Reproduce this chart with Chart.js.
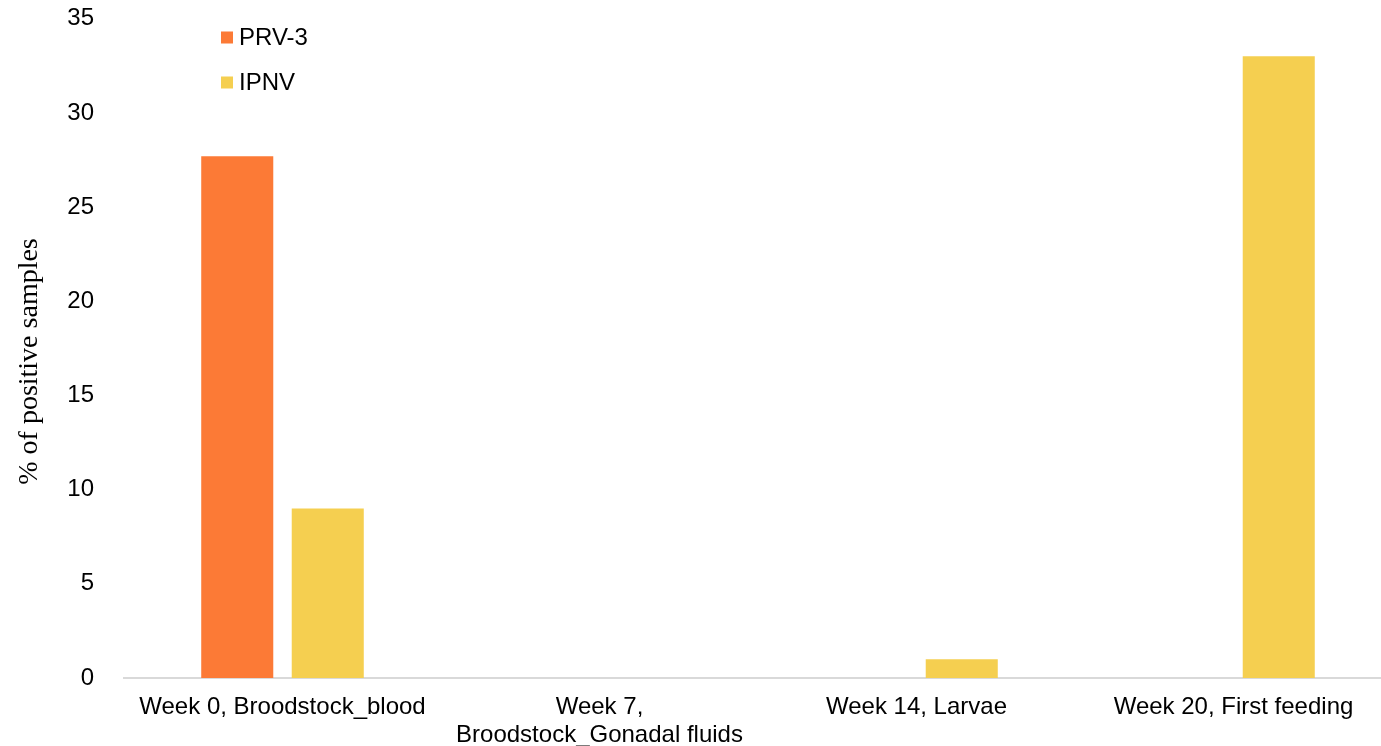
<!DOCTYPE html>
<html>
<head>
<meta charset="utf-8">
<script src="https://cdn.jsdelivr.net/npm/chart.js@4/dist/chart.umd.min.js"></script>
<style>
  html, body { margin: 0; padding: 0; background: #fff; overflow: hidden; }
  #wrap { position: relative; width: 1392px; height: 746px; }
</style>
</head>
<body>
<div id="wrap"><canvas id="c"></canvas></div>
<script>
const categories = [
  "Week 0, Broodstock_blood",
  ["Week 7,", "Broodstock_Gonadal fluids"],
  "Week 14, Larvae",
  "Week 20, First feeding"
];
const seriesNames = ["PRV-3", "IPNV"];
const prv3Values = [27.7, 0, 0, 0];
const ipnvValues = [9, 0, 1, 33];
const yTicks = [0, 5, 10, 15, 20, 25, 30, 35];
const yAxisTitle = "% of positive samples";
const colors = ["#FC7A36", "#F5CF50"];

const insideLegend = {
  id: 'insideLegend',
  afterDraw(chart) {
    const ctx = chart.ctx;
    ctx.save();
    ctx.font = '24px "Liberation Sans", Arial, sans-serif';
    ctx.textBaseline = 'middle';
    ctx.textAlign = 'left';
    chart.data.datasets.forEach((ds, i) => {
      const cy = 37.5 + i * 45;
      ctx.fillStyle = ds.backgroundColor;
      ctx.fillRect(221, cy - 6, 12, 12);
      ctx.fillStyle = '#000';
      ctx.fillText(ds.label, 239, cy + 0.5);
    });
    ctx.restore();
  }
};

const yTitle = {
  id: 'yTitle',
  afterDraw(chart) {
    const ctx = chart.ctx;
    ctx.save();
    ctx.translate(30, 361.5);
    ctx.rotate(-Math.PI / 2);
    ctx.font = '28px "Liberation Serif", "Times New Roman", serif';
    ctx.textAlign = 'center';
    ctx.textBaseline = 'middle';
    ctx.fillStyle = '#000';
    ctx.fillText(yAxisTitle, 0, 0);
    ctx.restore();
  }
};

new Chart(document.getElementById('c'), {
  type: 'bar',
  data: {
    labels: categories,
    datasets: [
      { label: seriesNames[0], data: prv3Values, backgroundColor: colors[0] },
      { label: seriesNames[1], data: ipnvValues, backgroundColor: colors[1] }
    ]
  },
  options: {
    responsive: true,
    maintainAspectRatio: false,
    animation: false,
    layout: { padding: { top: 18.7, right: 0, left: 0, bottom: 0 } },
    datasets: { bar: { categoryPercentage: 0.571, barPercentage: 0.796 } },
    plugins: { legend: { display: false }, tooltip: { enabled: false } },
    scales: {
      x: {
        grid: { display: false },
        border: { display: true, color: '#D9D9D9', width: 2 },
        ticks: {
          color: '#000',
          padding: 7,
          maxRotation: 0,
          autoSkip: false,
          font: { family: '"Liberation Sans", Arial, sans-serif', size: 24, lineHeight: 1.1667 }
        },
        afterFit(scale) { scale.height = 68; }
      },
      y: {
        min: 0,
        max: 35,
        afterBuildTicks(scale) { scale.ticks = yTicks.map(v => ({ value: v })); },
        grid: { display: false },
        border: { display: false },
        ticks: {
          color: '#000',
          padding: 22,
          font: { family: '"Liberation Sans", Arial, sans-serif', size: 24 }
        },
        title: { display: false },
        afterFit(scale) {
          scale.width = 124;
          scale.paddingTop = 0;
          scale.paddingBottom = 0;
        }
      }
    }
  },
  plugins: [insideLegend, yTitle]
});
</script>
</body>
</html>
